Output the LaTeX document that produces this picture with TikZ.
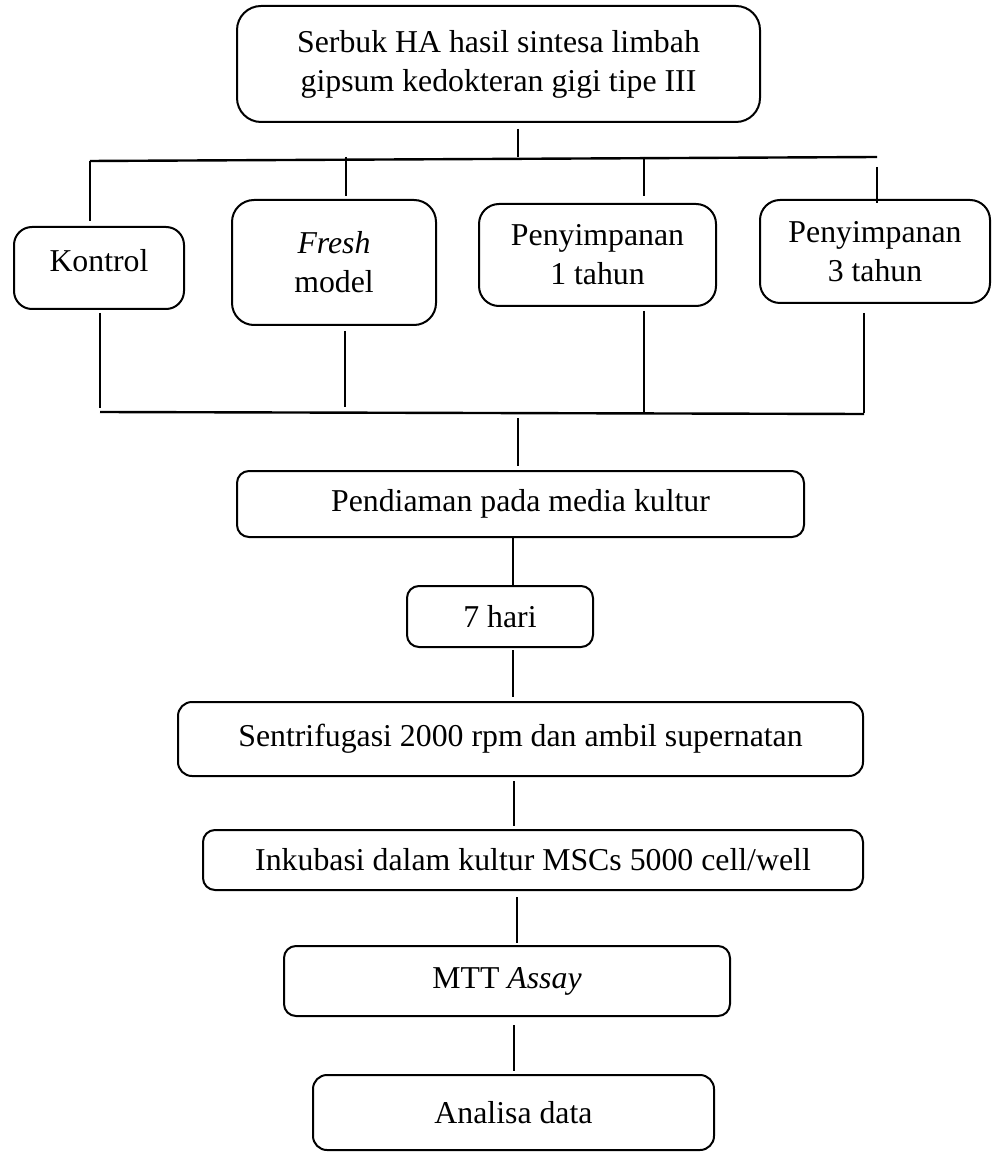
\documentclass[tikz,border=0pt]{standalone}
\usepackage{fontspec}
\setmainfont{Liberation Serif}
\usetikzlibrary{calc, positioning}

\tikzset{
    flowbox/.style={draw, line width=1pt, align=center, inner sep=0pt},
    bus/.style={line width=1.2pt},
    link/.style={line width=0.8pt}
}

\begin{document}
\begin{tikzpicture}[x=0.5pt, y=-0.5pt, font=\fontsize{15.9}{19.5}\selectfont]
    \def\spine{514}
    \def\topBus{157}
    \def\lowBus{412}

    \useasboundingbox (0, 0) rectangle (992, 1154);

    % Draw starting material
    \node[flowbox, rounded corners=12pt, minimum width=261.5pt, minimum height=58pt]
        (serbuk) at (498.5, 64) {Serbuk HA hasil sintesa limbah\\gipsum kedokteran gigi tipe III};

    % Draw groups
    \node[flowbox, rounded corners=9pt, minimum width=85pt, minimum height=41pt, text depth=8pt]
        (kontrol) at (99, 268) {Kontrol};
    \node[flowbox, rounded corners=11pt, minimum width=102pt, minimum height=62.5pt]
        (fresh) at (334, 262.5) {\textit{Fresh}\\model};
    \node[flowbox, rounded corners=10pt, minimum width=118.5pt, minimum height=51pt]
        (tahunA) at (597.5, 255) {Penyimpanan\\1 tahun};
    \node[flowbox, rounded corners=10pt, minimum width=115pt, minimum height=51.5pt]
        (tahunC) at (875, 251.5) {Penyimpanan\\3 tahun};

    % Draw process steps
    \node[flowbox, rounded corners=6pt, minimum width=283.5pt, minimum height=33pt]
        (pendiaman) at (520.5, 504) {Pendiaman pada media kultur};
    \node[flowbox, rounded corners=6pt, minimum width=93pt, minimum height=30.5pt]
        (hari) at (500, 616.5) {7 hari};
    \node[flowbox, rounded corners=7pt, minimum width=342.5pt, minimum height=37pt]
        (sentri) at (520.5, 739) {Sentrifugasi 2000 rpm dan ambil supernatan};
    \node[flowbox, rounded corners=6pt, minimum width=330pt, minimum height=30pt]
        (inkubasi) at (533, 860) {Inkubasi dalam kultur MSCs 5000 cell/well};
    \node[flowbox, rounded corners=6pt, minimum width=223pt, minimum height=35pt]
        (mtt) at (507, 981) {MTT \textit{Assay}};
    \node[flowbox, rounded corners=7pt, minimum width=200.5pt, minimum height=37.5pt]
        (analisa) at (513.5, 1112.5) {Analisa data};

    % Draw upper bus
    \coordinate (topL) at (90, 161);
    \coordinate (topR) at (877, \topBus);
    \coordinate (topJ) at (518, \topBus);
    \draw[bus] (topL) -- (topR);
    \draw[link, shorten <=3pt] (topJ |- serbuk.south) -- (topJ);

    % Draw branches down to the groups
    \foreach \n/\x/\y/\g in {kontrol/90/161/2.5, fresh/346/157/1.5, tahunA/644/157/3.5, tahunC/877/167/-2} {
        \coordinate (up-\n) at (\x, \y);
        \draw[link, shorten >=\g pt] (up-\n) -- (up-\n |- \n.north);
    }

    % Draw lower bus
    \coordinate (lowL) at (100, \lowBus);
    \coordinate (lowR) at (864, 414);
    \coordinate (lowJ) at (518, 418);
    \draw[bus] (lowL) -- (lowR);
    \draw[link, shorten >=2pt] (lowJ) -- (lowJ |- pendiaman.north);

    % Draw branches up from the groups
    \foreach \n/\x/\y/\g in {kontrol/100/408/1.5, fresh/345/407/2.5, tahunA/644/413/2, tahunC/864/413/4.5} {
        \coordinate (dn-\n) at (\x, \y);
        \draw[link, shorten <=\g pt] (dn-\n |- \n.south) -- (dn-\n);
    }

    % Draw chain of steps
    \foreach \a/\b/\x/\s/\e in {pendiaman/hari/513/0/0, hari/sentri/513/1/2,
                                sentri/inkubasi/514/2/1.5, inkubasi/mtt/517/3/1,
                                mtt/analisa/\spine/4/1.5} {
        \coordinate (col) at (\x, 0);
        \draw[link, shorten <=\s pt, shorten >=\e pt] (col |- \a.south) -- (col |- \b.north);
    }
\end{tikzpicture}
\end{document}
